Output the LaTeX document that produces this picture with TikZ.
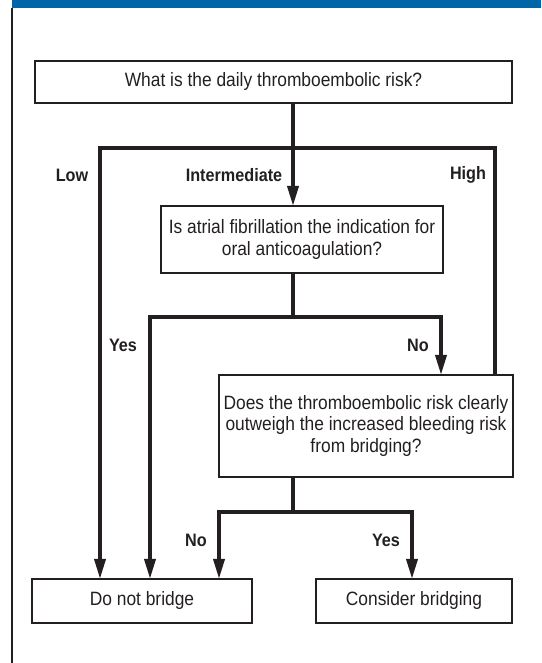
\documentclass[tikz,border=0pt]{standalone}
\usepackage{fontspec}
\setmainfont{Liberation Sans}[FakeStretch=0.9]
\usepackage{tikz}
\usetikzlibrary{arrows.meta}
\usetikzlibrary{positioning}

\definecolor{headblue}{RGB}{0,102,168}
\definecolor{inkgray}{RGB}{35,31,32}

\tikzset{
	question/.style={draw=inkgray, line width=1.1pt, align=center, inner sep=2pt,
		font=\fontsize{19.3}{21.5}\selectfont, text=inkgray},
	answer/.style={font=\fontsize{18}{20}\selectfont\bfseries, text=inkgray},
	flow/.style={draw=inkgray, line width=3.6pt},
	flowto/.style={flow, -{Triangle[length=20pt,width=11pt]}, shorten >=-0.5pt}
}

\begin{document}
\begin{tikzpicture}[x=1pt,y=-1pt]
	\useasboundingbox (0,0) rectangle (541,663);
	\fill[headblue] (12,0) rectangle (541,8.5);
	\draw[inkgray, line width=1.6pt] (12,8) -- (12,663);

	\node[question, minimum width=477pt, minimum height=42pt] (risk) at (273.5,82) {What is the daily thromboembolic risk?};
	\node[question, minimum width=282pt, minimum height=67pt] (af) at (302,239.5) {Is atrial fibrillation the indication for\\oral anticoagulation?};
	\node[question, minimum width=294pt, minimum height=102pt] (weigh) at (366,426) {Does the thromboembolic risk clearly\\outweigh the increased bleeding risk\\from bridging?};
	\node[question, minimum width=220pt, minimum height=44pt] (nobridge) at (142,601) {Do not bridge};
	\node[question, minimum width=196pt, minimum height=44pt] (bridge) at (414,601) {Consider bridging};

	% branch points
	\coordinate (split1) at (293,148);
	\coordinate (low) at (100,148);
	\coordinate (high) at (495,148);
	\coordinate (split2) at (293,317);
	\coordinate (yesaf) at (150,317);
	\coordinate (noaf) at (441,317);
	\coordinate (split3) at (293,512);
	\coordinate (noweigh) at (219,512);
	\coordinate (yesweigh) at (412,512);

	\draw[flowto] (risk.south -| split1) -- (af.north -| split1);
	\draw[flowto] (split1) -- (low) -- (low |- nobridge.north);
	\draw[flow] (split1) -- (high) -- (high |- weigh.north);
	\draw[flow] (af.south -| split2) -- (split2);
	\draw[flowto] (split2) -- (yesaf) -- (yesaf |- nobridge.north);
	\draw[flowto] (split2) -- (noaf) -- (noaf |- weigh.north);
	\draw[flow] (weigh.south -| split3) -- (split3);
	\draw[flowto] (split3) -- (noweigh) -- (noweigh |- nobridge.north);
	\draw[flowto] (split3) -- (yesweigh) -- (yesweigh |- bridge.north);

	\node[answer] (lowlbl) at (72,175) {Low};
	\node[answer] (intlbl) at (234,175) {Intermediate};
	\node[answer] (highlbl) at (468,175) {High};
	\node[answer] (yesaflbl) at (123,345) {Yes};
	\node[answer] (noaflbl) at (418,345) {No};
	\node[answer] (noweighlbl) at (196,540) {No};
	\node[answer] (yesweighlbl) at (386,540) {Yes};
\end{tikzpicture}
\end{document}
